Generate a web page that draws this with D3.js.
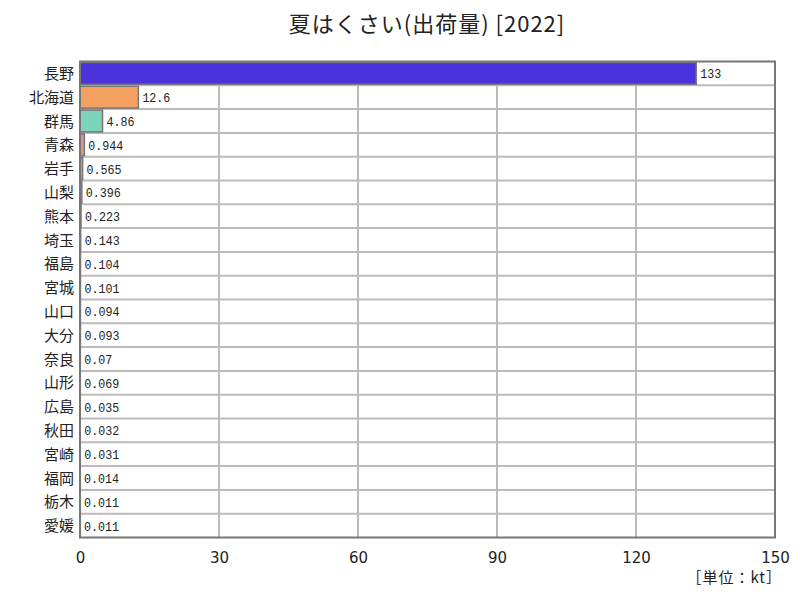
<!DOCTYPE html>
<html><head><meta charset="utf-8">
<script src="https://cdn.jsdelivr.net/npm/d3@7"></script>
<style>body{margin:0;background:#fff;} svg{display:block;}</style>
</head><body>
<svg id="c" width="800" height="600"></svg>
<script>
const categories = ["長野","北海道","群馬","青森","岩手","山梨","熊本","埼玉","福島","宮城","山口","大分","奈良","山形","広島","秋田","宮崎","福岡","栃木","愛媛"];
const values = [133,12.6,4.86,0.944,0.565,0.396,0.223,0.143,0.104,0.101,0.094,0.093,0.07,0.069,0.035,0.032,0.031,0.014,0.011,0.011];
const valueLabels = ["133","12.6","4.86","0.944","0.565","0.396","0.223","0.143","0.104","0.101","0.094","0.093","0.07","0.069","0.035","0.032","0.031","0.014","0.011","0.011"];
const colors = ["#4b32dc","#f4a060","#7dd3b8","#e0908c","#8fb0d8","#c0a0d8","#a0c878","#e8c070","#88c8e8","#d8a0b8","#b0b0b0","#90d0a0","#e8a0a0","#a0a0e0","#d0c080","#80c0c0","#c090a0","#a0c0a0","#c0a080","#9090c0"];
const xTicks = [0,30,60,90,120,150];
const title = "夏はくさい(出荷量) [2022]";
const unit = "［単位：kt］";

const svg = d3.select("#c");
const m = {left:80, right:25, top:61.5, bottom:62.5};
const W = 800, H = 600;
const x = d3.scaleLinear().domain([0,150]).range([m.left, W-m.right]);
const y = d3.scaleBand().domain(categories).range([m.top, H-m.bottom]).padding(0);
const jp = "'Noto Sans CJK JP', sans-serif";

svg.append("text").attr("x",427).attr("y",32).attr("text-anchor","middle")
  .attr("font-family",jp).attr("font-size",22).attr("letter-spacing",1).attr("fill","#222").text(title);

// horizontal grid lines between rows
svg.append("g").selectAll("line").data(categories.slice(1)).join("line")
  .attr("x1",x(0)).attr("x2",x(150)).attr("y1",d=>y(d)).attr("y2",d=>y(d))
  .attr("stroke","#bbb").attr("stroke-width",2);
// vertical grid
svg.append("g").selectAll("line").data(xTicks.slice(1,-1)).join("line")
  .attr("x1",d=>x(d)).attr("x2",d=>x(d)).attr("y1",y.range()[0]).attr("y2",y.range()[1])
  .attr("stroke","#bbb").attr("stroke-width",2);

// bars
svg.append("g").selectAll("rect").data(values).join("rect")
  .attr("x",x(0)).attr("y",(d,i)=>y(categories[i])+1)
  .attr("width",d=>Math.max(0,x(d)-x(0)))
  .attr("height",y.bandwidth()-2)
  .attr("fill",(d,i)=>colors[i]).attr("stroke","#777").attr("stroke-width",1.5);

// value labels
svg.append("g").selectAll("text").data(values).join("text")
  .attr("x",d=>x(d)+4).attr("y",(d,i)=>y(categories[i])+y.bandwidth()/2+5)
  .attr("font-family","'Liberation Mono', monospace").attr("font-size",13).attr("fill","#222")
  .attr("textLength",(d,i)=>valueLabels[i].length*7).attr("lengthAdjust","spacingAndGlyphs")
  .text((d,i)=>valueLabels[i]);

// frame
svg.append("rect").attr("x",x(0)).attr("y",y.range()[0]).attr("width",x(150)-x(0))
  .attr("height",y.range()[1]-y.range()[0]).attr("fill","none").attr("stroke","#777").attr("stroke-width",2);

// category labels
svg.append("g").selectAll("text").data(categories).join("text")
  .attr("x",x(0)-6).attr("y",d=>y(d)+y.bandwidth()/2+5.5).attr("text-anchor","end")
  .attr("font-family",jp).attr("font-size",15).attr("fill","#222").text(d=>d);

// x axis tick labels
const xa = d3.axisBottom(x).tickValues(xTicks).tickSize(0).tickPadding(0);
const g = svg.append("g").attr("transform",`translate(0,${H-m.bottom+25})`).call(xa);
g.select(".domain").remove();
g.selectAll("text").attr("font-family","'DejaVu Sans', sans-serif").attr("font-size",15).attr("fill","#222").attr("dy","0");

svg.append("text").attr("x",782).attr("y",583).attr("text-anchor","end")
  .attr("font-family",jp).attr("font-size",15).attr("letter-spacing",1).attr("fill","#222").text(unit);
</script>
</body></html>
